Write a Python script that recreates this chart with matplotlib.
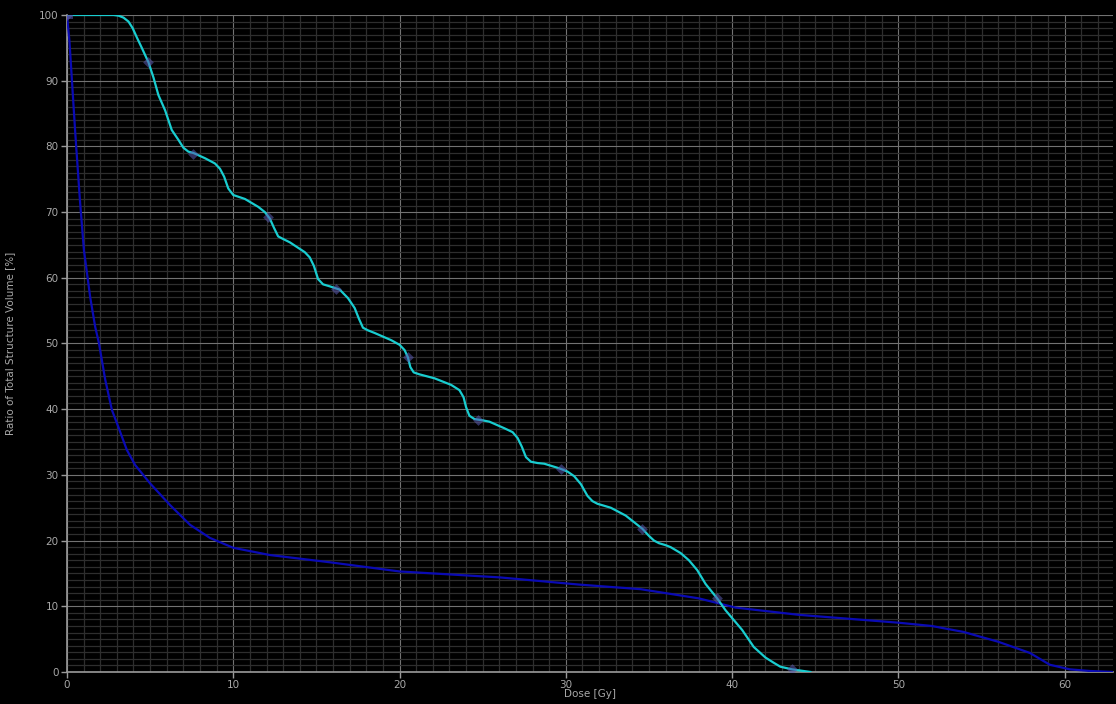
import matplotlib
matplotlib.use("Agg")
import matplotlib.pyplot as plt
from matplotlib.ticker import MultipleLocator

# DVH curves: dose [Gy] vs. ratio of total structure volume [%]
ptv_dose = [0.0, 1.5, 2.8, 3.1, 3.4, 3.7, 3.95, 4.2, 4.5, 4.9, 5.2, 5.5, 5.9, 6.3, 6.7,
            7.0, 7.3, 7.6, 8.3, 8.9, 9.2, 9.45, 9.7, 10.0, 10.7, 11.5, 11.9, 12.2,
            12.45, 12.7, 13.0, 13.4, 14.3, 14.6, 14.85, 15.1, 15.4, 15.8, 16.4,
            16.9, 17.3, 17.55, 17.8, 18.1, 18.5, 19.5, 20.0, 20.3, 20.5, 20.65,
            20.85, 21.2, 22.1, 23.1, 23.6, 23.85, 24.0, 24.2, 24.5, 25.0, 25.4,
            26.3, 26.8, 27.1, 27.35, 27.6, 27.9, 28.3, 28.7, 29.6, 30.1, 30.5,
            30.9, 31.3, 31.6, 31.9, 32.7, 33.6, 34.2, 34.6, 35.0, 35.3, 35.6, 36.0,
            36.3, 36.9, 37.4, 37.9, 38.4, 39.1, 39.6, 40.0, 40.6, 41.3, 42.0,
            42.5, 42.9, 43.6, 44.7]
ptv_vol = [100.0, 100.0, 100.0, 99.9, 99.6, 99.0, 98.0, 96.6, 95.0, 92.8, 90.5, 87.8,
           85.5, 82.5, 81.0, 79.8, 79.2, 79.0, 78.2, 77.4, 76.6, 75.4, 73.6, 72.6, 72.0,
           70.8, 70.0, 69.0, 67.6, 66.3, 65.9, 65.4, 63.9, 63.1, 61.8, 59.8, 59.0, 58.7,
           58.2, 56.9, 55.4, 53.8, 52.4, 52.0, 51.6, 50.5, 49.8, 49.0, 47.9, 46.4,
           45.6, 45.3, 44.7, 43.7, 42.9, 41.8, 40.3, 39.0, 38.5, 38.3, 38.1, 37.1,
           36.5, 35.6, 34.3, 32.7, 32.0, 31.8, 31.7, 31.0, 30.5, 29.8, 28.6, 26.8,
           26.0, 25.6, 25.0, 23.8, 22.6, 21.8, 20.7, 20.0, 19.6, 19.3, 19.0, 18.1,
           17.0, 15.5, 13.4, 11.2, 9.4, 8.2, 6.4, 3.8, 2.2, 1.4, 0.8, 0.4, 0.0]

oar_dose = [0.0, 0.15, 0.3, 0.5, 0.78, 1.02, 1.4, 1.7, 1.92, 2.3, 2.7, 3.0, 3.6,
            4.1, 5.0, 6.2, 7.4, 8.6, 10.0, 12.2, 15.8, 20.0, 26.0, 30.8, 34.5, 38.0,
            40.2, 44.0, 48.0, 50.0, 52.0, 53.9, 56.0, 57.9, 59.1, 60.3, 61.5, 62.9]
oar_vol = [100.0, 96.0, 90.0, 82.0, 71.8, 64.2, 57.0, 52.5, 50.1, 44.5, 39.9, 37.9,
           33.8, 31.5, 28.7, 25.4, 22.4, 20.4, 18.9, 17.8, 16.7, 15.3, 14.4, 13.3,
           12.6, 11.2, 9.8, 8.7, 7.9, 7.5, 7.0, 6.1, 4.6, 2.9, 1.1, 0.4, 0.15, 0.0]

# sampled point handles along the PTV curve
ptv_pts_dose = [0.0, 4.9, 7.6, 12.1, 16.2, 20.5, 24.7, 29.7, 34.6, 39.1, 43.6]
ptv_pts_vol = [100.0, 92.8, 78.8, 69.2, 58.3, 47.9, 38.4, 30.9, 21.8, 11.2, 0.4]

fig = plt.figure(figsize=(11.16, 7.04), dpi=100, facecolor="black")
ax = fig.add_axes([0.060, 0.0455, 0.9373, 0.9332], facecolor="black")

ax.set_xlim(0, 62.9)
ax.set_ylim(0, 100)
ax.xaxis.set_major_locator(MultipleLocator(10))
ax.xaxis.set_minor_locator(MultipleLocator(1))
ax.yaxis.set_major_locator(MultipleLocator(10))
ax.yaxis.set_minor_locator(MultipleLocator(1))

ax.grid(which="minor", color="#2e2e2e", linewidth=0.9)
ax.grid(which="major", color="#727272", linewidth=0.8)
ax.set_axisbelow(True)

for side in ["top", "right"]:
    ax.spines[side].set_visible(False)
for side in ["left", "bottom"]:
    ax.spines[side].set_color("#9a9a9a")
    ax.spines[side].set_linewidth(1.2)

ax.tick_params(which="major", colors="#9a9a9a", labelcolor="#a8a8a8",
               labelsize=7.5, length=4, width=1, pad=2)
ax.tick_params(which="minor", length=0)

ax.plot(oar_dose, oar_vol, color="#0a0ab4", linewidth=1.6, zorder=3)
ax.plot(ptv_dose, ptv_vol, color="#19cdd0", linewidth=1.6, zorder=4)
ax.scatter(ptv_pts_dose, ptv_pts_vol, marker="D", s=30, color="#5a5ab0",
           alpha=0.55, linewidths=0, zorder=5)
ax.scatter([0.1], [100.0], marker="s", s=30, color="#5a5ab0", alpha=0.55,
           linewidths=0, zorder=5)

ax.set_xlabel("Dose [Gy]", color="#a8a8a8", fontsize=7.5)
ax.xaxis.set_label_coords(0.5, -0.033)
ax.xaxis.label.set_va("center")
ax.set_ylabel("Ratio of Total Structure Volume [%]", color="#a8a8a8", fontsize=7.5)
ax.yaxis.set_label_coords(-0.050, 0.5)

fig.savefig("out.png", dpi=100, facecolor="black")
